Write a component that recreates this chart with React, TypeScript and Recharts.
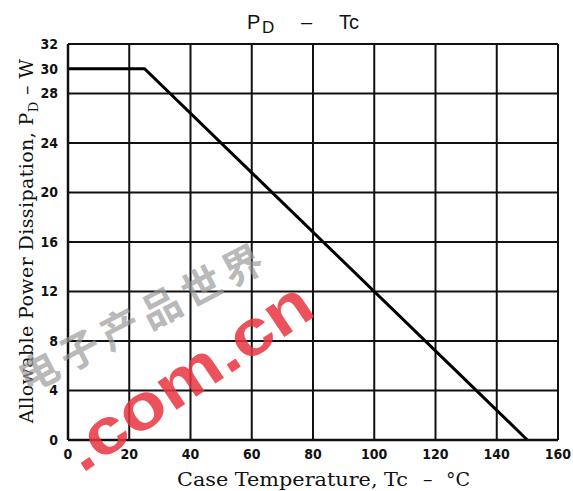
import React from "react";
import { LineChart, Line, XAxis, YAxis, ReferenceLine } from "recharts";

const tempC = [0, 25, 150];
const powerW = [30, 30, 0];
const xTicks = [0, 20, 40, 60, 80, 100, 120, 140, 160];
const yTicks = [0, 4, 8, 12, 16, 20, 24, 28, 30, 32];
const yGrid = [4, 8, 12, 16, 20, 24, 28, 32];
const xGrid = [20, 40, 60, 80, 100, 120, 140, 160];

const data = tempC.map((t, i) => ({ t, p: powerW[i] }));

const tickStyle = {
  fill: "#111",
  fontSize: 14,
  fontWeight: 700,
  fontFamily: "'DejaVu Sans Condensed', 'DejaVu Sans', sans-serif",
};

export default function App() {
  return (
    <div style={{ position: "absolute", left: 0, top: 0, width: 573, height: 491, background: "#fff" }}>
      <LineChart
        width={573}
        height={491}
        data={data}
        margin={{ top: 44, right: 15, bottom: 21, left: 8 }}
      >
        <XAxis
          dataKey="t"
          type="number"
          domain={[0, 160]}
          ticks={xTicks}
          tickLine={false}
          axisLine={{ stroke: "#111", strokeWidth: 2.5 }}
          tick={tickStyle}
          tickMargin={3}
          height={30}
          interval={0}
        />
        <YAxis
          dataKey="p"
          type="number"
          domain={[0, 32]}
          ticks={yTicks}
          tickLine={false}
          axisLine={{ stroke: "#111", strokeWidth: 2.5 }}
          tick={tickStyle}
          tickMargin={4}
          width={60}
          interval={0}
        />
        {yGrid.map((v) => (
          <ReferenceLine key={"y" + v} y={v} stroke="#111" strokeWidth={2} ifOverflow="extendDomain" />
        ))}
        {xGrid.map((v) => (
          <ReferenceLine key={"x" + v} x={v} stroke="#111" strokeWidth={2} ifOverflow="extendDomain" />
        ))}
        <Line
          dataKey="p"
          type="linear"
          stroke="#000"
          strokeWidth={3}
          dot={false}
          isAnimationActive={false}
        />
      </LineChart>
      <svg
        width={573}
        height={491}
        style={{ position: "absolute", left: 0, top: 0, pointerEvents: "none" }}
      >
        <text
          x={247}
          y={29}
          fontFamily="'Liberation Sans', Arial, sans-serif"
          fontSize={20}
          fill="#111"
        >
          P
          <tspan x={262} y={33} fontSize={17}>D</tspan>
          <tspan x={301} y={29}>–</tspan>
          <tspan x={339} y={29}>Tc</tspan>
        </text>
        <text
          transform="translate(33,241) rotate(-90)"
          textAnchor="middle"
          fontFamily="'DejaVu Serif', serif"
          fontSize={19}
          letterSpacing={0.4}
          fill="#111"
        >
          Allowable Power Dissipation, P
          <tspan fontSize={13} dy={5}>D</tspan>
          <tspan dy={-5}>{"  –  W"}</tspan>
        </text>
        <text
          x={177}
          y={486}
          fontFamily="'DejaVu Serif', serif"
          fontSize={19}
          fill="#111"
          textLength={231}
          lengthAdjust="spacingAndGlyphs"
        >
          Case Temperature, Tc
        </text>
        <text
          x={423}
          y={486}
          fontFamily="'DejaVu Serif', serif"
          fontSize={19}
          fill="#111"
        >
          –
        </text>
        <text
          x={446}
          y={486}
          fontFamily="'DejaVu Serif', serif"
          fontSize={19}
          fill="#111"
        >
          °C
        </text>
        <text
          transform="translate(150,330) rotate(-27.5)"
          textAnchor="middle"
          fontFamily="'Noto Sans CJK SC', sans-serif"
          fontWeight={700}
          fontSize={40}
          letterSpacing={6}
          fill="#9a9a9a"
          fillOpacity={0.7}
        >
          电子产品世界
        </text>
        <text
          transform="translate(200,394) rotate(-34)"
          textAnchor="middle"
          fontFamily="'Liberation Sans', Arial, sans-serif"
          fontWeight={700}
          fontSize={64}
          fill="#e8343e"
          fillOpacity={0.85}
          textLength={285}
          lengthAdjust="spacingAndGlyphs"
        >
          .com.cn
        </text>
      </svg>
    </div>
  );
}
